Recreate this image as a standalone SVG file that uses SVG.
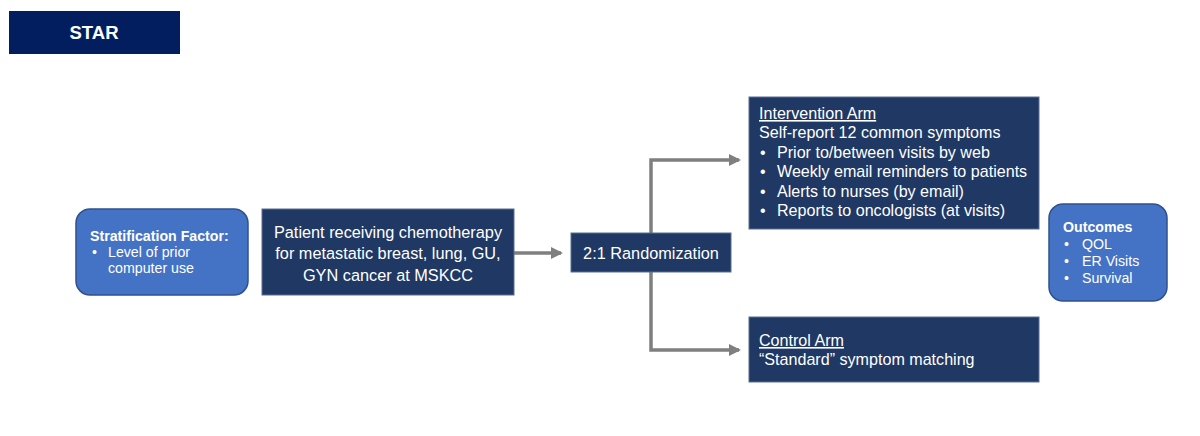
<svg xmlns="http://www.w3.org/2000/svg" width="1200" height="436" viewBox="0 0 1200 436">
<defs>
<style>
.t{font-family:"Liberation Sans",Arial,sans-serif;fill:#ffffff}
.dark{fill:#203864;stroke:#5a6e94;stroke-width:1}
.blue{fill:#4472c4;stroke:#2f528f;stroke-width:1.5}
.conn{fill:none;stroke:#7f7f7f;stroke-width:3.5}
</style>
<marker id="ah" markerWidth="12" markerHeight="12" refX="10" refY="6" orient="auto" markerUnits="userSpaceOnUse">
<path d="M0,0 L12,6 L0,12 Z" fill="#7f7f7f"/>
</marker>
</defs>
<rect width="1200" height="436" fill="#ffffff"/>
<g id="title">
<rect x="9" y="11" width="171" height="43" fill="#021e5f"/>
<text class="t" x="94" y="39" font-size="18.5" font-weight="bold" text-anchor="middle">STAR</text>
</g>
<g id="connectors">
<path class="conn" d="M514,253 L561,253" marker-end="url(#ah)"/>
<path class="conn" d="M651,233 L651,160 L739,160" marker-end="url(#ah)"/>
<path class="conn" d="M651,272 L651,350 L739,350" marker-end="url(#ah)"/>
</g>
<g id="stratification">
<rect class="blue" x="76" y="209" width="172" height="86" rx="14"/>
<text class="t" x="90" y="241" font-size="14.2" font-weight="bold">Stratification Factor:</text>
<text class="t" x="92" y="257" font-size="14.2">•</text>
<text class="t" x="108" y="257" font-size="14.2">Level of prior</text>
<text class="t" x="108" y="273" font-size="14.2">computer use</text>
</g>
<g id="patient">
<rect class="dark" x="262" y="209" width="252" height="86"/>
<text class="t" x="388" y="238" font-size="16.3" text-anchor="middle">Patient receiving chemotherapy</text>
<text class="t" x="388" y="259" font-size="16.3" text-anchor="middle">for metastatic breast, lung, GU,</text>
<text class="t" x="388" y="281" font-size="16.3" text-anchor="middle">GYN cancer at MSKCC</text>
</g>
<g id="randomization">
<rect class="dark" x="571" y="233" width="160" height="39"/>
<text class="t" x="651" y="259" font-size="16.3" text-anchor="middle">2:1 Randomization</text>
</g>
<g id="intervention">
<rect class="dark" x="749" y="97" width="290" height="132"/>
<text class="t" x="759" y="119" font-size="16.1" text-decoration="underline">Intervention Arm</text>
<text class="t" x="759" y="138" font-size="16.1">Self-report 12 common symptoms</text>
<text class="t" x="760" y="158" font-size="16.1">•</text>
<text class="t" x="777" y="158" font-size="16.1">Prior to/between visits by web</text>
<text class="t" x="760" y="177" font-size="16.1">•</text>
<text class="t" x="777" y="177" font-size="16.1">Weekly email reminders to patients</text>
<text class="t" x="760" y="197" font-size="16.1">•</text>
<text class="t" x="777" y="197" font-size="16.1">Alerts to nurses (by email)</text>
<text class="t" x="760" y="216" font-size="16.1">•</text>
<text class="t" x="777" y="216" font-size="16.1">Reports to oncologists (at visits)</text>
</g>
<g id="control">
<rect class="dark" x="749" y="317" width="290" height="65"/>
<text class="t" x="759" y="346" font-size="16.1" text-decoration="underline">Control Arm</text>
<text class="t" x="759" y="365" font-size="16.1">“Standard” symptom matching</text>
</g>
<g id="outcomes">
<rect class="blue" x="1049" y="204" width="118" height="97" rx="14"/>
<text class="t" x="1063" y="232" font-size="14.2" font-weight="bold">Outcomes</text>
<text class="t" x="1064" y="249" font-size="14.2">•</text>
<text class="t" x="1082" y="249" font-size="14.2">QOL</text>
<text class="t" x="1064" y="266" font-size="14.2">•</text>
<text class="t" x="1082" y="266" font-size="14.2">ER Visits</text>
<text class="t" x="1064" y="283" font-size="14.2">•</text>
<text class="t" x="1082" y="283" font-size="14.2">Survival</text>
</g>
</svg>
